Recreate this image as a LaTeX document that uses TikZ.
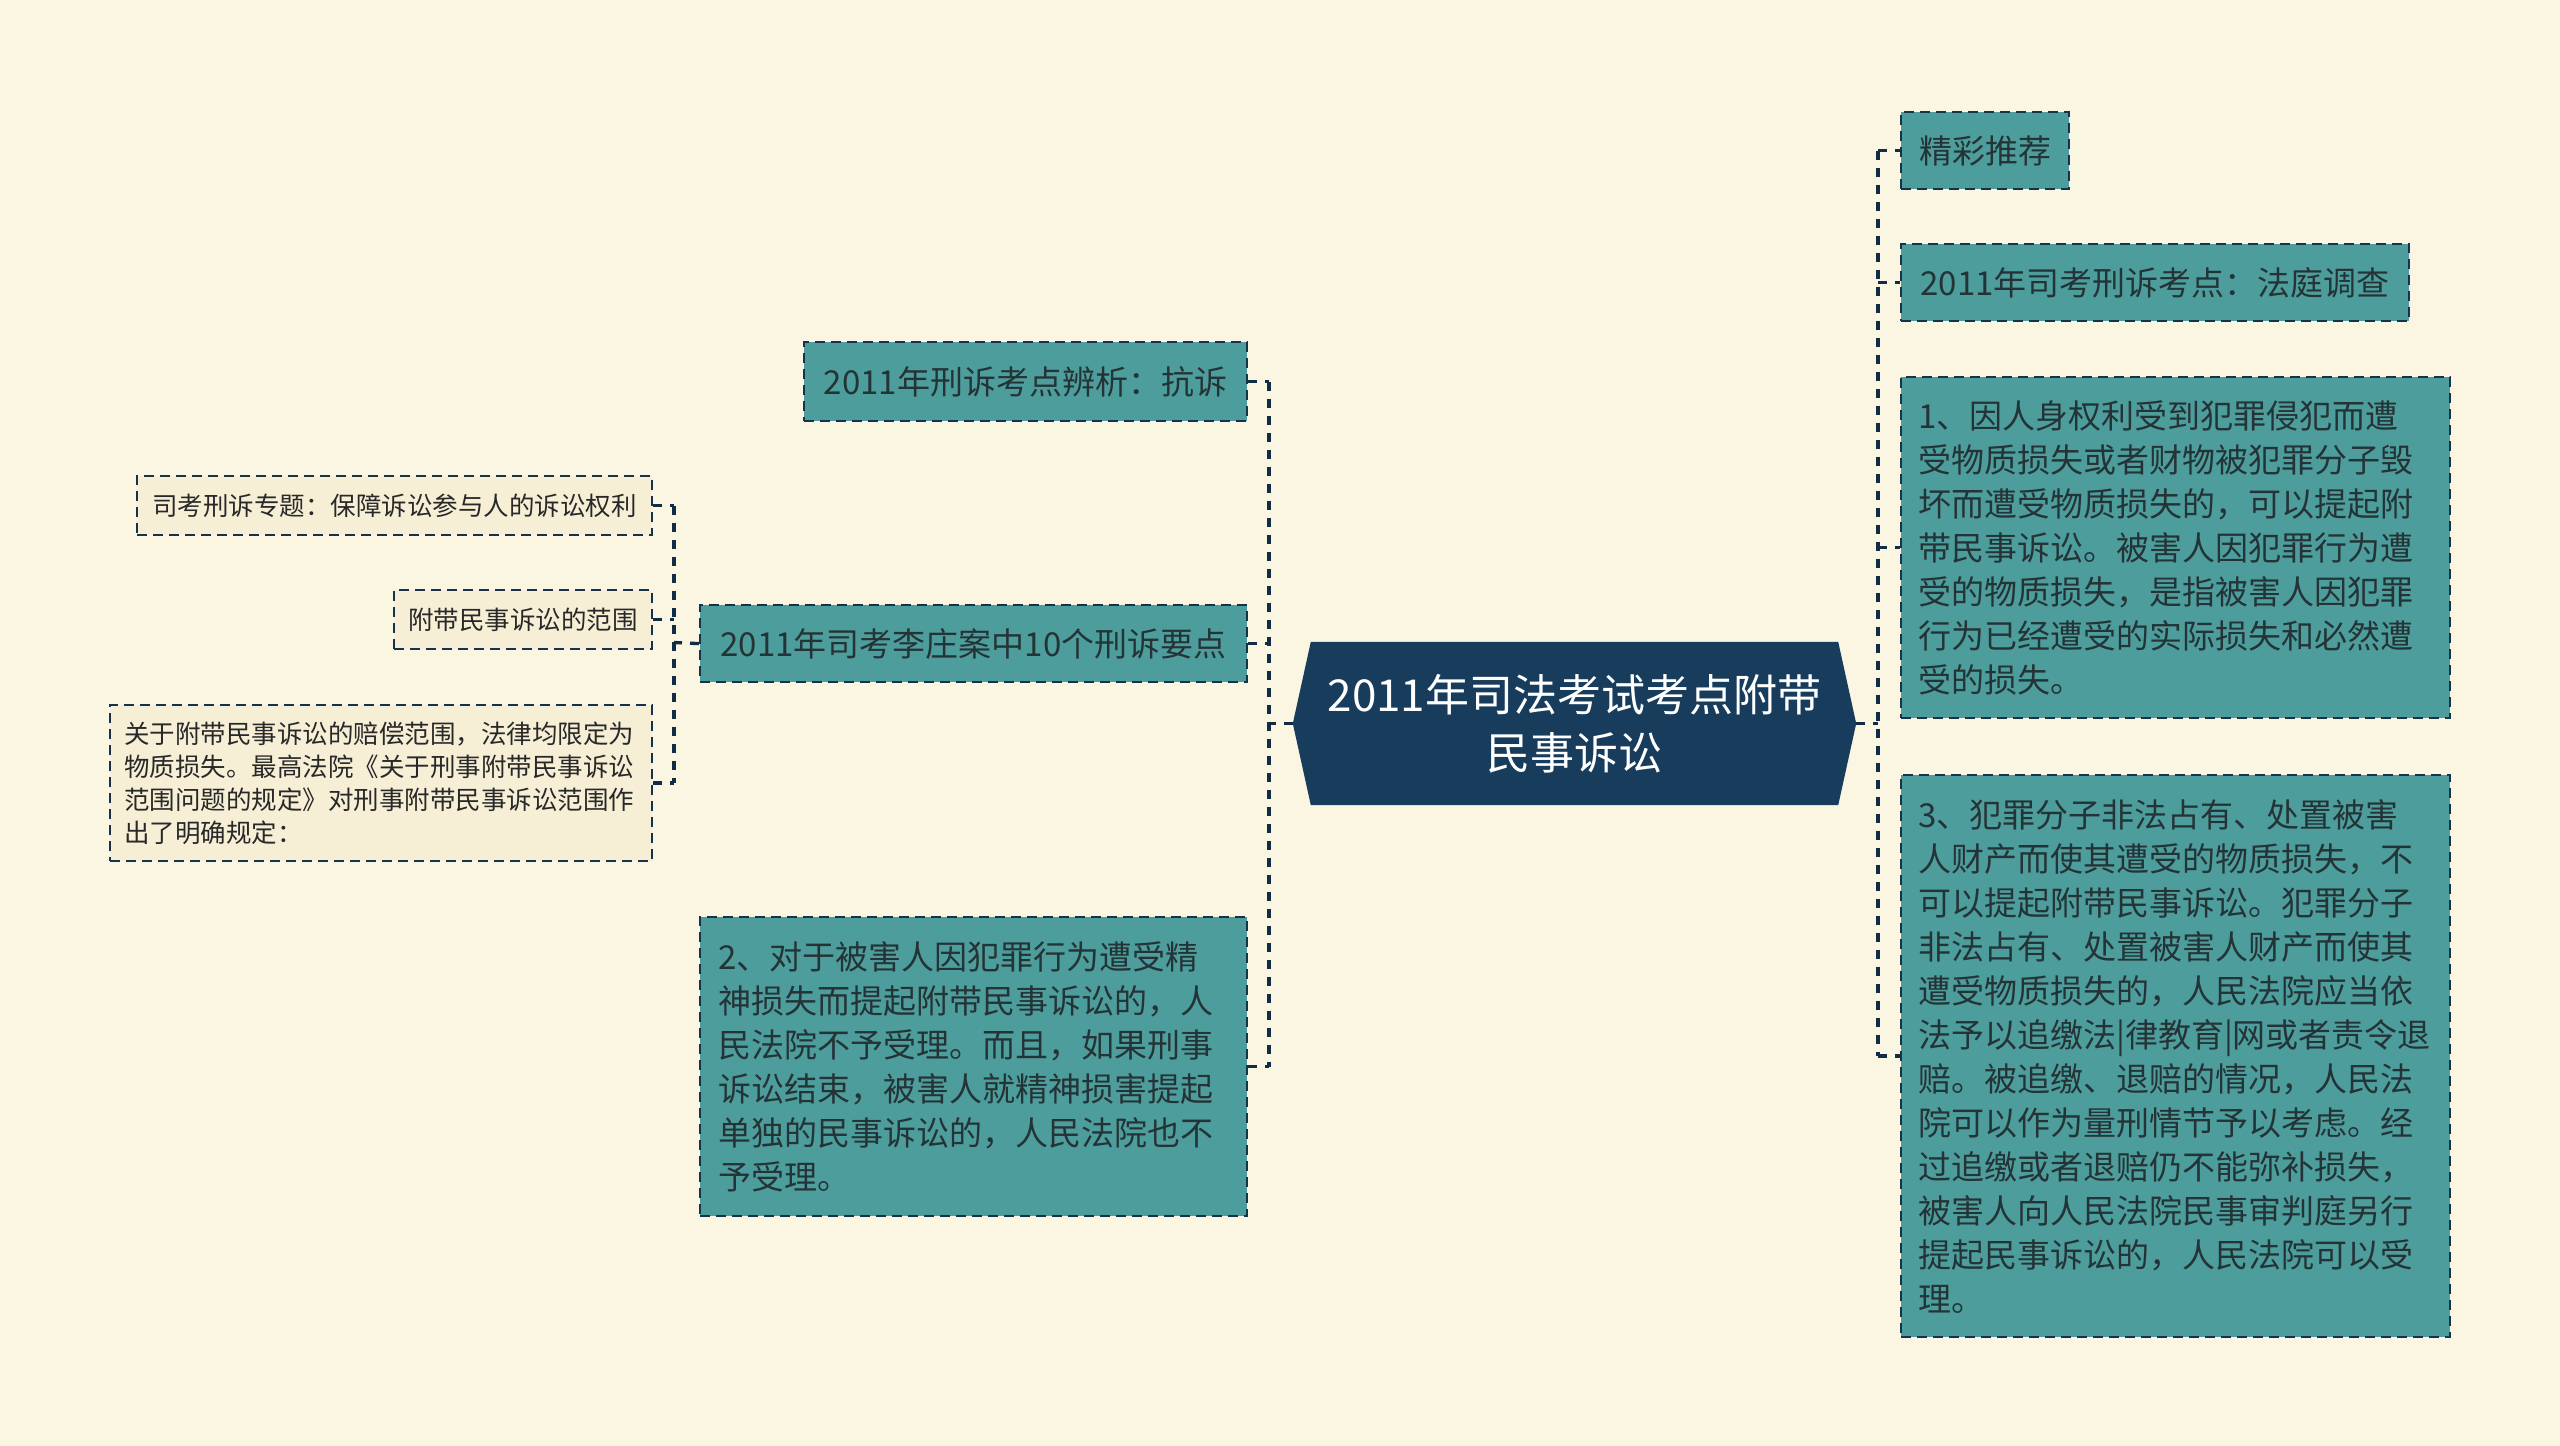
\documentclass[tikz,border=0pt]{standalone}
\usepackage{fontspec}
\setmainfont{Noto Sans CJK SC}
\definecolor{bgc}{RGB}{251,246,226}
\definecolor{tealc}{RGB}{78,157,157}
\definecolor{beigec}{RGB}{246,239,214}
\definecolor{navy}{RGB}{24,60,92}
\definecolor{bordc}{RGB}{22,50,76}
\definecolor{connc}{RGB}{16,44,70}
\definecolor{txtc}{RGB}{36,52,54}
\definecolor{txt2}{RGB}{40,40,40}
\tikzset{
  lvlone/.style={draw=bordc, fill=tealc, line width=2.2pt, dash pattern=on 10pt off 6pt,
    text=txtc, font=\fontsize{33}{44}\selectfont, anchor=north west,
    inner xsep=18pt, inner ysep=0pt},
  lvltwo/.style={draw=bordc, fill=beigec, line width=2.2pt, dash pattern=on 10pt off 6pt,
    text=txt2, font=\fontsize{25.5}{33}\selectfont, anchor=north west,
    inner xsep=14pt, inner ysep=0pt},
  conn/.style={draw=connc, line width=3.3pt, dash pattern=on 9pt off 8pt},
}
\begin{document}
\begin{tikzpicture}[x=1pt,y=-1pt]
\useasboundingbox (0,0) rectangle (2560,1446);
\fill[bgc] (0,0) rectangle (2560,1446);

% root
\node[minimum width=563pt, minimum height=163pt, inner sep=0pt] (root) at (1574.5,723.5) {};
\fill[navy] ([xshift=18pt]root.north west) -- ([xshift=-18pt]root.north east) -- (root.east)
  -- ([xshift=-18pt]root.south east) -- ([xshift=18pt]root.south west) -- (root.west) -- cycle;
\node[text=white, align=center, font=\fontsize{44}{58}\selectfont] (roottext) at (root.center)
  {2011年司法考试考点附带\\民事诉讼};

% left level 1
\node[lvlone, minimum width=443pt, minimum height=79pt] (A) at (803,341) {2011年刑诉考点辨析：抗诉};
\node[lvlone, minimum width=547pt, minimum height=77pt] (B) at (699,604) {2011年司考李庄案中10个刑诉要点};
\node[lvlone, minimum width=547pt, minimum height=299pt, text width=511pt, align=left] (C) at (699,916)
  {2、对于被害人因犯罪行为遭受精\\神损失而提起附带民事诉讼的，人\\民法院不予受理。而且，如果刑事\\诉讼结束，被害人就精神损害提起\\单独的民事诉讼的，人民法院也不\\予受理。};

% left level 2
\node[lvltwo, minimum width=515pt, minimum height=59pt] (D) at (136,475) {司考刑诉专题：保障诉讼参与人的诉讼权利};
\node[lvltwo, minimum width=258pt, minimum height=59pt] (E) at (393,589) {附带民事诉讼的范围};
\node[lvltwo, minimum width=542pt, minimum height=156pt, text width=514pt, align=left] (F) at (109,704)
  {关于附带民事诉讼的赔偿范围，法律均限定为\\物质损失。最高法院《关于刑事附带民事诉讼\\范围问题的规定》对刑事附带民事诉讼范围作\\出了明确规定：};

% right level 1
\node[lvlone, minimum width=167pt, minimum height=77pt] (G) at (1900,111) {精彩推荐};
\node[lvlone, minimum width=508pt, minimum height=77pt] (H) at (1900,243) {2011年司考刑诉考点：法庭调查};
\node[lvlone, minimum width=549pt, minimum height=341pt, text width=515pt, inner xsep=17pt, align=left] (I) at (1900,376)
  {1、因人身权利受到犯罪侵犯而遭\\受物质损失或者财物被犯罪分子毁\\坏而遭受物质损失的，可以提起附\\带民事诉讼。被害人因犯罪行为遭\\受的物质损失，是指被害人因犯罪\\行为已经遭受的实际损失和必然遭\\受的损失。};
\node[lvlone, minimum width=549pt, minimum height=562pt, text width=515pt, inner xsep=17pt, align=left] (J) at (1900,774)
  {3、犯罪分子非法占有、处置被害\\人财产而使其遭受的物质损失，不\\可以提起附带民事诉讼。犯罪分子\\非法占有、处置被害人财产而使其\\遭受物质损失的，人民法院应当依\\法予以追缴法|律教育|网或者责令退\\赔。被追缴、退赔的情况，人民法\\院可以作为量刑情节予以考虑。经\\过追缴或者退赔仍不能弥补损失，\\被害人向人民法院民事审判庭另行\\提起民事诉讼的，人民法院可以受\\理。};

% connectors left
\coordinate (lt) at (1269,723.5);
\draw[conn] (root.west) -- (lt);
\draw[conn] (lt |- A.east) -- (lt |- C.east);
\draw[conn] (A.east) -- (lt |- A.east);
\draw[conn] (B.east) -- (lt |- B.east);
\draw[conn] (C.east) -- (lt |- C.east);

% sub trunk
\coordinate (st) at (674,642.5);
\draw[conn] (B.west) -- (st);
\draw[conn] (st |- D.east) -- (st |- F.east);
\draw[conn] (D.east) -- (st |- D.east);
\draw[conn] (E.east) -- (st |- E.east);
\draw[conn] (F.east) -- (st |- F.east);

% connectors right
\coordinate (rt) at (1878,723.5);
\draw[conn] (root.east) -- (rt);
\draw[conn] (rt |- G.west) -- (rt |- J.west);
\draw[conn] (rt |- G.west) -- (G.west);
\draw[conn] (rt |- H.west) -- (H.west);
\draw[conn] (rt |- I.west) -- (I.west);
\draw[conn] (rt |- J.west) -- (J.west);
\end{tikzpicture}
\end{document}
